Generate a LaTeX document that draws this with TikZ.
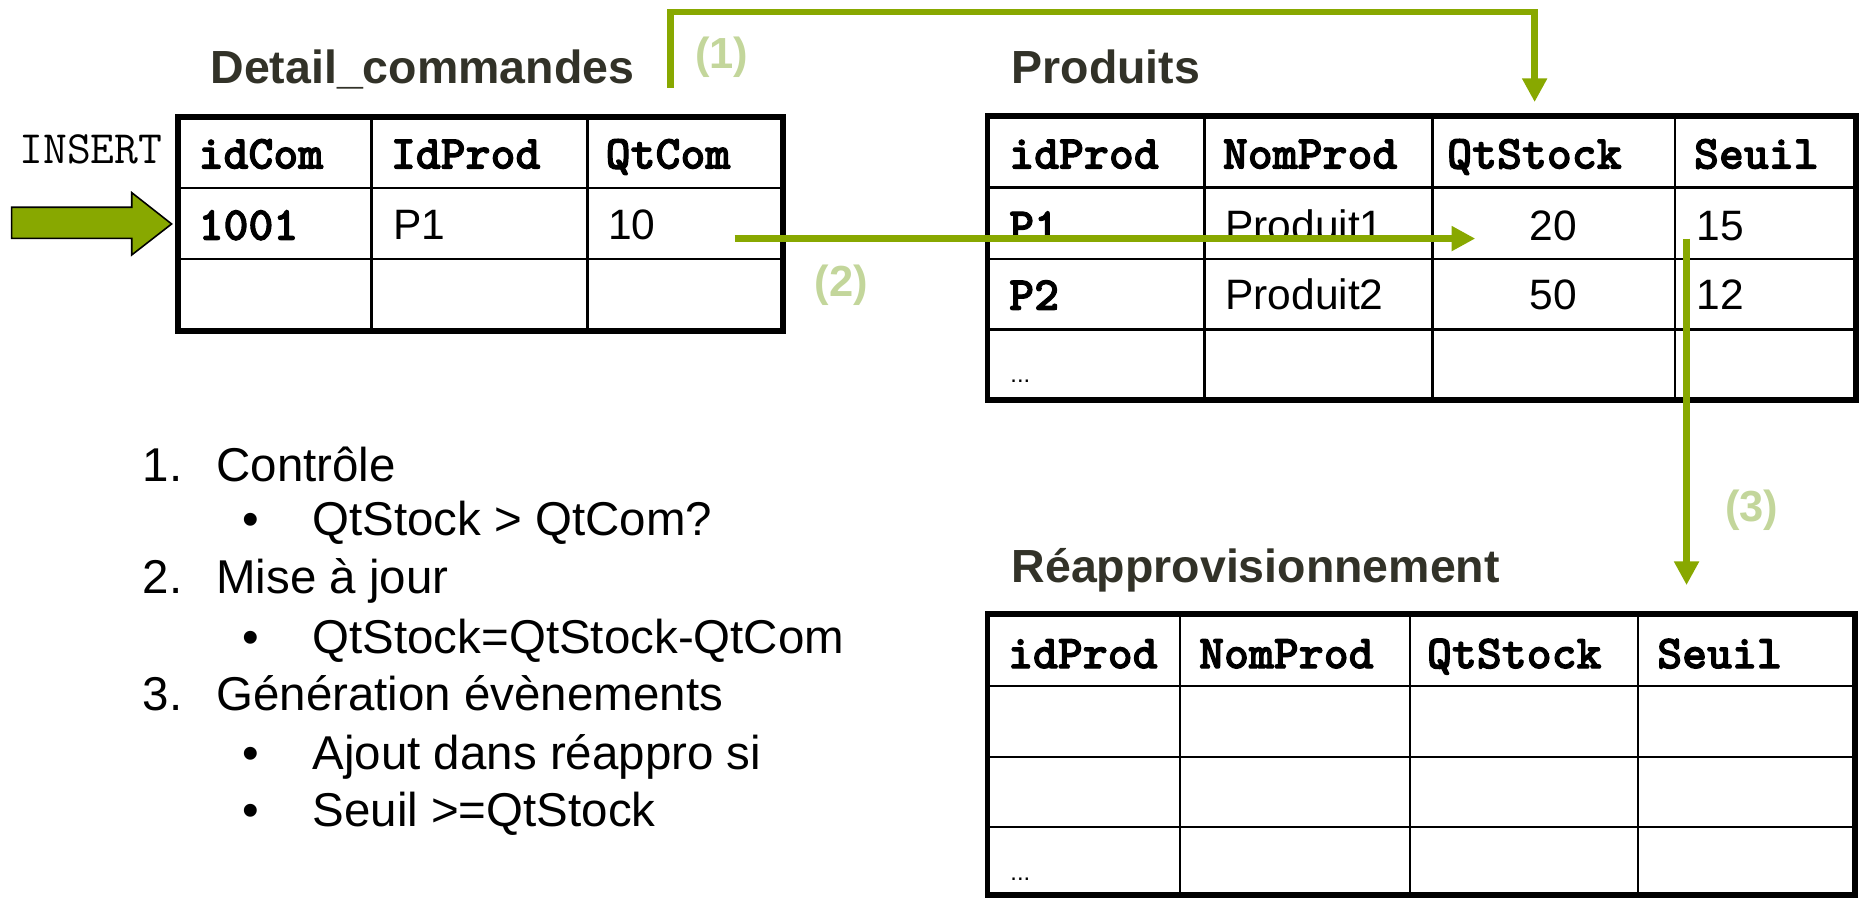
\documentclass[tikz,border=0pt]{standalone}
\usepackage{fontspec}
\setmainfont{Liberation Sans}
\newfontfamily\monobold{lmmonolt10-bold.otf}[FakeBold=2.2]
\usepackage{tikz}
\usetikzlibrary{positioning,arrows.meta}
\definecolor{olivegreen}{RGB}{136,168,0}
\definecolor{palegreen}{RGB}{195,214,155}
\definecolor{titlegray}{RGB}{50,50,40}

\tikzset{
  tabtitle/.style={anchor=base west, inner sep=0pt, text=titlegray, font=\bfseries\fontsize{23.5}{28}\selectfont},
  colhead/.style={anchor=base west, inner sep=0pt, font=\monobold\fontsize{24}{28}\selectfont},
  cellval/.style={anchor=base west, inner sep=0pt, font=\fontsize{21.5}{26}\selectfont},
  listtxt/.style={anchor=base west, inner sep=0pt, font=\fontsize{24}{29}\selectfont},
  numlabel/.style={inner sep=0pt, text=palegreen, font=\bfseries\fontsize{22}{26}\selectfont},
  link/.style={draw=olivegreen, line width=3.4pt, -{Triangle[length=12pt,width=12pt]}},
  tabinner/.style={line width=1.2pt},
  tabouter/.style={line width=3pt}
}

\begin{document}
\begin{tikzpicture}[x=0.6pt, y=-0.6pt]
\useasboundingbox (0,0) rectangle (1568,756);

% Titles
\node[tabtitle] (detailTitle) at (177,70) {Detail\_commandes};
\node[tabtitle] (produitsTitle) at (852,70) {Produits};
\node[tabtitle] (reapTitle) at (852,491) {Réapprovisionnement};

% Detail_commandes table
\draw[tabinner] (150,158.5) -- (660,158.5);
\draw[tabinner] (150,218) -- (660,218);
\draw[tabinner] (313,98.5) -- (313,279);
\draw[tabinner] (495,98.5) -- (495,279);
\draw[tabouter] (150,98.5) rectangle (660,279);
\node[colhead] (dcIdCom) at (167,142) {idCom};
\node[colhead] (dcIdProd) at (329,142) {IdProd};
\node[colhead] (dcQtCom) at (510,142) {QtCom};
\node[colhead] (dc1001) at (167,202) {1001};
\node[cellval] (dcP1) at (331,202) {P1};
\node[cellval] (dcQte) at (512,202) {10};

% INSERT
\node[anchor=base west, inner sep=0pt, font=\ttfamily\fontsize{23.4}{27}\selectfont] (insertTxt) at (16,137.5) {INSERT};
\filldraw[fill=olivegreen, draw=black, line width=0.8pt] (9.8,174.6) -- (111,174.6) -- (111,162.3)
  -- (144.6,188.7) -- (111,214.8) -- (111,200.8) -- (9.8,200.8) -- cycle;

% Produits table
\draw[tabinner] (832,158) -- (1564,158);
\draw[tabinner] (832,218) -- (1564,218);
\draw[tabinner] (832,277.5) -- (1564,277.5);
\draw[tabinner] (1015,98) -- (1015,337);
\draw[tabinner] (1207,98) -- (1207,337);
\draw[tabinner] (1411,98) -- (1411,337);
\draw[tabouter] (832,98) rectangle (1564,337);
\node[colhead] (prIdProd) at (850,142) {idProd};
\node[colhead] (prNomProd) at (1030,142) {NomProd};
\node[colhead] (prQtStock) at (1219,142) {QtStock};
\node[colhead] (prSeuil) at (1427,142) {Seuil};
\node[colhead] (prP1) at (850,203) {P1};
\node[cellval] (prNom1) at (1032,203) {Produit1};
\node[cellval, anchor=base] (prStock1) at (1309,203) {20};
\node[cellval] (prSeuil1) at (1429,203) {15};
\node[colhead] (prP2) at (850,261) {P2};
\node[cellval] (prNom2) at (1032,261) {Produit2};
\node[cellval, anchor=base] (prStock2) at (1309,261) {50};
\node[cellval] (prSeuil2) at (1429,261) {12};
\node[anchor=base west, inner sep=0pt, font=\fontsize{12}{14}\selectfont] (prDots) at (851,322) {...};

% Reapprovisionnement table
\draw[tabinner] (832,578) -- (1563,578);
\draw[tabinner] (832,638) -- (1563,638);
\draw[tabinner] (832,697) -- (1563,697);
\draw[tabinner] (994,517) -- (994,754);
\draw[tabinner] (1188,517) -- (1188,754);
\draw[tabinner] (1380,517) -- (1380,754);
\draw[tabouter] (832,517) rectangle (1563,754);
\node[colhead] (reIdProd) at (849,563) {idProd};
\node[colhead] (reNomProd) at (1010,563) {NomProd};
\node[colhead] (reQtStock) at (1202,563) {QtStock};
\node[colhead] (reSeuil) at (1396,563) {Seuil};
\node[anchor=base west, inner sep=0pt, font=\fontsize{12}{14}\selectfont] (reDots) at (851,742) {...};

% Steps list
\node[listtxt] (num1) at (120,406) {1.};
\node[listtxt] (item1) at (182,406) {Contrôle};
\node[listtxt] (puce1) at (204,451) {\textbullet};
\node[listtxt] (sub1) at (263,451) {QtStock > QtCom?};
\node[listtxt] (num2) at (120,500) {2.};
\node[listtxt] (item2) at (182,500) {Mise à jour};
\node[listtxt] (puce2) at (204,551) {\textbullet};
\node[listtxt] (sub2) at (263,551) {QtStock=QtStock-QtCom};
\node[listtxt] (num3) at (120,599) {3.};
\node[listtxt] (item3) at (182,599) {Génération évènements};
\node[listtxt] (puce3) at (204,648) {\textbullet};
\node[listtxt] (sub3) at (263,648) {Ajout dans réappro si};
\node[listtxt] (puce4) at (204,696) {\textbullet};
\node[listtxt] (sub4) at (263,696) {Seuil >=QtStock};

% Trigger links
\coordinate (fromDetail) at (565,74);
\coordinate (overBend) at (1293,10);
\coordinate (toStock) at (1293,86);
\coordinate (qtcomOut) at (619,201);
\coordinate (stockIn) at (1243,201);
\coordinate (seuilOut) at (1421,201);
\coordinate (reapIn) at (1421,493);
\draw[link] (fromDetail) |- (overBend) -- (toStock);
\draw[link] (qtcomOut) -- (stockIn);
\draw[link] (seuilOut) -- (reapIn);
\node[numlabel] (lab1) at (608,48) {(1)};
\node[numlabel] (lab2) at (709,240) {(2)};
\node[numlabel] (lab3) at (1476,430) {(3)};

\end{tikzpicture}
\end{document}
